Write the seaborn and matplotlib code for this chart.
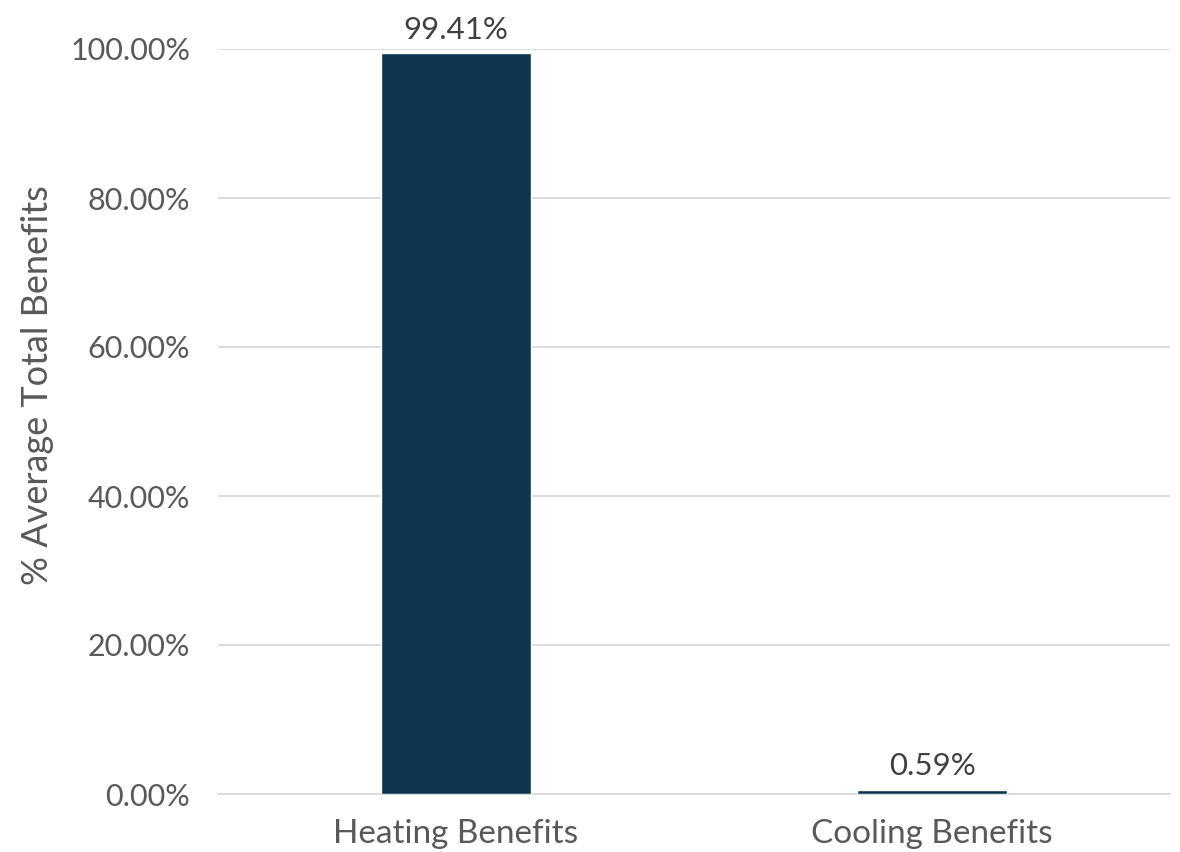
import matplotlib
matplotlib.use("Agg")
import matplotlib.pyplot as plt
import seaborn as sns
import pandas as pd

categories = ["Heating Benefits", "Cooling Benefits"]
shares = [99.41, 0.59]
y_ticks = [0, 20, 40, 60, 80, 100]

bar_color = "#0B364D"
text_color = "#595959"
grid_color = "#D9D9D9"

sns.set_theme(style="white")
plt.rcParams["font.family"] = ["Lato", "DejaVu Sans"]

df = pd.DataFrame({"category": categories, "share": shares})

fig = plt.figure(figsize=(11.8, 8.52), dpi=100)
ax = fig.add_axes([218 / 1180, 1 - 794 / 852, (1170 - 218) / 1180, (794 - 49) / 852])

sns.barplot(data=df, x="category", y="share", color=bar_color, width=0.315,
            saturation=1, ax=ax, zorder=3)

ax.set_ylim(0, 100)
ax.set_yticks(y_ticks)
ax.set_yticklabels([f"{t:.2f}%" for t in y_ticks])
ax.yaxis.grid(True, color=grid_color, linewidth=1.3, zorder=0)
ax.set_axisbelow(True)
for side in ["top", "right", "left"]:
    ax.spines[side].set_visible(False)
ax.spines["bottom"].set_color(grid_color)
ax.spines["bottom"].set_linewidth(1.3)

ax.tick_params(axis="both", length=0, colors=text_color)
ax.tick_params(axis="y", labelsize=22, pad=20)
ax.tick_params(axis="x", labelsize=24, pad=18)
ax.set_xlabel("")
ax.set_ylabel("% Average Total Benefits", fontsize=26, color=text_color)
ax.yaxis.set_label_coords(-0.172, 0.549)

for patch, val in zip(ax.patches, shares):
    ax.annotate(f"{val:.2f}%", (patch.get_x() + patch.get_width() / 2, patch.get_height()),
                xytext=(0, 7), textcoords="offset points", ha="center", va="bottom",
                fontsize=22.5, color="#404040")

fig.savefig("out.png", dpi=100, facecolor="white")
